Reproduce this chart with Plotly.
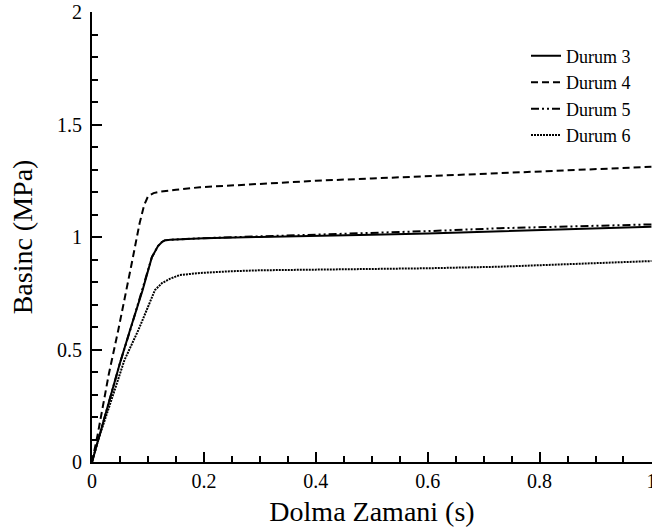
import plotly.graph_objects as go

# Durum 3 (solid)
x3 = [0, 0.01, 0.03, 0.05, 0.068, 0.09, 0.107, 0.118, 0.125, 0.13, 0.14, 0.2, 0.3, 0.4, 0.5, 0.6, 0.7, 0.8, 0.9, 1.0]
y3 = [0, 0.09, 0.27, 0.44, 0.587, 0.76, 0.91, 0.96, 0.978, 0.985, 0.988, 0.995, 1.0, 1.004, 1.01, 1.016, 1.024, 1.032, 1.039, 1.046]

# Durum 4 (dashed)
x4 = [0, 0.01, 0.03, 0.047, 0.07, 0.085, 0.093, 0.1, 0.11, 0.121, 0.15, 0.193, 0.3, 0.4, 0.5, 0.6, 0.729, 0.85, 1.0]
y4 = [0, 0.12, 0.39, 0.587, 0.87, 1.06, 1.14, 1.18, 1.195, 1.201, 1.21, 1.221, 1.236, 1.25, 1.26, 1.27, 1.283, 1.296, 1.312]

# Durum 5 (dash-dot-dot)
x5 = [0, 0.01, 0.03, 0.05, 0.07, 0.09, 0.107, 0.118, 0.125, 0.13, 0.14, 0.2, 0.3, 0.4, 0.5, 0.6, 0.729, 0.8, 0.9, 1.0]
y5 = [0, 0.09, 0.27, 0.44, 0.6, 0.765, 0.91, 0.96, 0.978, 0.985, 0.988, 0.995, 1.002, 1.009, 1.017, 1.026, 1.039, 1.044, 1.05, 1.056]

# Durum 6 (dotted)
x6 = [0, 0.011, 0.03, 0.058, 0.083, 0.1, 0.1125, 0.125, 0.14, 0.157, 0.193, 0.25, 0.3, 0.4, 0.5, 0.6, 0.729, 0.85, 1.0]
y6 = [0, 0.098, 0.24, 0.453, 0.587, 0.69, 0.764, 0.795, 0.815, 0.831, 0.84, 0.848, 0.852, 0.855, 0.857, 0.861, 0.868, 0.878, 0.893]

names = ["Durum 3", "Durum 4", "Durum 5", "Durum 6"]
FONT = "Liberation Serif, Times New Roman, serif"

fig = go.Figure()
styles = [
    dict(dash="solid", width=2),
    dict(dash="7px,4px", width=2),
    dict(dash="8px,3px,2px,3px,2px,3px", width=2),
    dict(dash="2px,1px", width=2),
]
for xs, ys, nm, st in zip([x3, x4, x5, x6], [y3, y4, y5, y6], names, styles):
    fig.add_trace(go.Scatter(x=xs, y=ys, mode="lines", name=nm,
                             line=dict(color="black", **st)))

axis_common = dict(
    showgrid=False, zeroline=False, showline=True, linecolor="black", linewidth=2,
    ticks="inside", ticklen=10, tickwidth=2, tickcolor="black",
    tickfont=dict(family=FONT, size=20, color="black"),
    mirror=False, ticklabeloverflow="allow",
)

fig.update_xaxes(range=[0, 1.001], dtick=0.2, tick0=0,
                 minor=dict(dtick=0.05, ticks="inside", ticklen=6, tickwidth=1.5, tickcolor="black"),
                 title=dict(text="Dolma Zamani (s)", font=dict(family=FONT, size=28, color="black"), standoff=10),
                 **axis_common)
fig.update_yaxes(range=[0, 2], dtick=0.5, tick0=0, ticklabelstandoff=4,
                 minor=dict(dtick=0.1, ticks="inside", ticklen=6, tickwidth=1.5, tickcolor="black"),
                 title=dict(text="Basinc (MPa)", font=dict(family=FONT, size=28, color="black"), standoff=16),
                 **axis_common)

fig.update_layout(
    width=652, height=531,
    margin=dict(l=92, r=0, t=12, b=69, autoexpand=False),
    paper_bgcolor="white", plot_bgcolor="white",
    font=dict(family=FONT, color="black"),
    legend=dict(x=0.775, y=0.943, xanchor="left", yanchor="top",
                font=dict(family=FONT, size=18, color="black"),
                bgcolor="rgba(0,0,0,0)", tracegroupgap=0),
)

fig.write_html("out.html", config={"displayModeBar": False},
               post_script="document.body.style.margin='0';document.body.style.overflow='hidden';")
